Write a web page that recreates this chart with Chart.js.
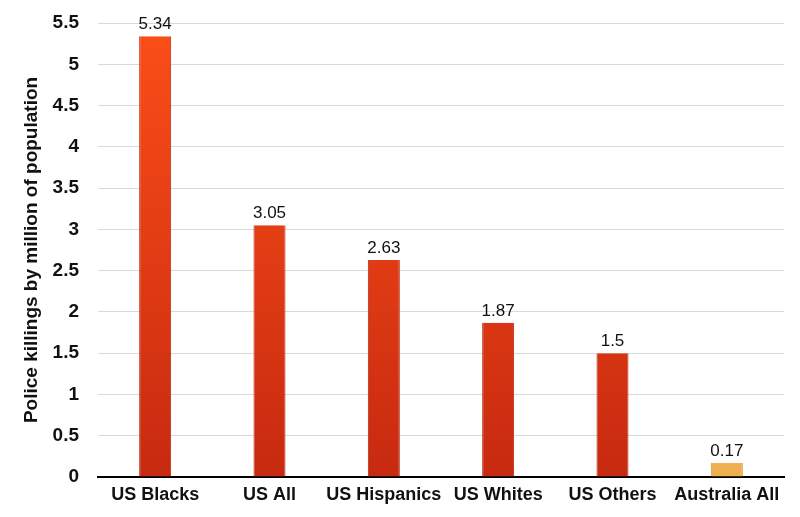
<!DOCTYPE html>
<html><head><meta charset="utf-8">
<script src="https://cdn.jsdelivr.net/npm/chart.js@4"></script>
<style>html,body{margin:0;padding:0;background:#fff}#wrap{width:800px;height:517px}</style>
</head><body><div id="wrap"><canvas id="c" width="800" height="517"></canvas></div>
<script>
const categories = ["US Blacks","US All","US Hispanics","US Whites","US Others","Australia All"];
const values = [5.34, 3.05, 2.63, 1.87, 1.5, 0.17];
const yTicks = [0,0.5,1,1.5,2,2.5,3,3.5,4,4.5,5,5.5];
const yTitle = "Police killings by million of population";

const FONT = "'Liberation Sans', Arial, Helvetica, sans-serif";
function barColor(ctx){
  const chart = ctx.chart; const area = chart.chartArea;
  if (ctx.dataIndex === categories.length-1) return '#efb04f';
  if (!area) return '#e8401a';
  const g = chart.ctx.createLinearGradient(0, area.top, 0, area.bottom);
  g.addColorStop(0, '#fc4e18');
  g.addColorStop(1, '#c72a10');
  return g;
}
const labelPlugin = {
  id:'vals',
  afterDatasetsDraw(chart){
    const ctx = chart.ctx; const meta = chart.getDatasetMeta(0);
    ctx.save();
    ctx.font = "17px " + FONT; ctx.fillStyle = '#111'; ctx.textAlign='center'; ctx.textBaseline='bottom';
    meta.data.forEach((el,i)=>{ ctx.fillText(String(values[i]), el.x, el.y - 3); });
    ctx.restore();
  }
};
new Chart(document.getElementById('c'), {
  type:'bar',
  data:{labels:categories, datasets:[{data:values, backgroundColor:barColor,
    borderColor: categories.map((c,i)=> i===categories.length-1 ? '#d99a3c' : '#b82810'),
    borderWidth:{left:1,right:1,top:0,bottom:0},
    categoryPercentage:1, barPercentage:0.28}]},
  options:{
    responsive:false, animation:false,
    layout:{padding:{top:23,right:16,left:0,bottom:0}},
    plugins:{legend:{display:false}, tooltip:{enabled:false}},
    scales:{
      x:{grid:{display:false, drawTicks:false},
         border:{display:true,color:'#000',width:2},
         ticks:{color:'#111', font:{family:FONT,size:18,weight:'bold'}, padding:7, maxRotation:0, autoSkip:false},
         afterFit(s){ s.height = 40; s.paddingLeft = 0; s.paddingRight = 0; }},
      y:{min:0,max:5.5,
         afterBuildTicks(s){ s.ticks = yTicks.map(v=>({value:v})); },
         grid:{color:'#d9d9d9', lineWidth:1, drawTicks:false},
         border:{display:false},
         ticks:{color:'#111', font:{family:FONT,size:19,weight:'bold'}, padding:19,
                callback:(v)=>String(v)},
         title:{display:true,text:yTitle,color:'#111',font:{family:FONT,size:19,weight:'bold'},padding:{top:20,bottom:0}},
         afterFit(s){ s.width = 98; s.paddingTop = 0; s.paddingBottom = 0; }}
    }
  },
  plugins:[labelPlugin]
});
</script></body></html>
